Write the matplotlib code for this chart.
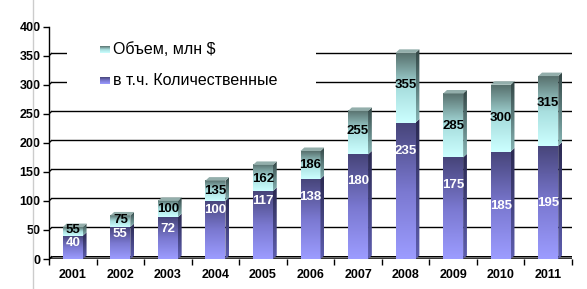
import numpy as np
import matplotlib
matplotlib.use("Agg")
import matplotlib.pyplot as plt
from matplotlib.colors import LinearSegmentedColormap
from matplotlib.patches import Polygon, Rectangle
from matplotlib.lines import Line2D

years = ["2001", "2002", "2003", "2004", "2005", "2006", "2007", "2008", "2009", "2010", "2011"]
total = [55, 75, 100, 135, 162, 186, 255, 355, 285, 300, 315]
quant = [40, 55, 72, 100, 117, 138, 180, 235, 175, 185, 195]
legend_labels = ["Объем, млн $", "в т.ч. Количественные"]

# label heights as placed in the original (hand moved labels)
total_label_y = [50, 67, 86, 117, 138, 162, 221, 299, 229, 243, 268]
quant_label_y = [27, 43, 52, 84, 100, 106, 134, 186, 127, 92, 96]

plt.rcParams['font.family'] = ['Liberation Sans', 'DejaVu Sans']

W, H = 587, 289
fig = plt.figure(figsize=(W / 100, H / 100), dpi=100)
ax = fig.add_axes([49 / W, (H - 259) / H, (572 - 49) / W, (259 - 26.7) / H])

cm_quant = LinearSegmentedColormap.from_list("q", ["#9c9cff", "#7a78d0", "#47457a"])
cm_quant_side = LinearSegmentedColormap.from_list("qs", ["#5e5eb0", "#2a2950"])
cm_total = LinearSegmentedColormap.from_list("t", ["#ccffff", "#a8dede", "#58716e"])
cm_total_side = LinearSegmentedColormap.from_list("ts", ["#86b4b4", "#324544"])

grad = np.linspace(0, 1, 64).reshape(-1, 1)
dx, dy = 0.08, 6
bw = 0.42


def grad_fill(x0, x1, y0, y1, cmap, clip=None, z=3):
    im = ax.imshow(grad, extent=[x0, x1, y0, y1], origin="lower", aspect="auto",
                   cmap=cmap, zorder=z, interpolation="bilinear")
    if clip is not None:
        ax.add_patch(clip)
        im.set_clip_path(clip)
    return im


# back wall gridlines
for v in range(0, 401, 50):
    ax.plot([-0.5, -0.5 + dx * 0.8], [v, v + dy * 0.8], color="black", lw=1, zorder=1,
            solid_capstyle="butt")
    if v > 0:
        ax.plot([-0.5 + dx * 0.8, 10.5 + dx * 0.8], [v + dy * 0.8, v + dy * 0.8],
                color="black", lw=1, zorder=1)

# floor
floor = Polygon([(-0.5, 0), (10.5, 0), (10.5 + dx, dy * 0.7), (-0.5 + dx, dy * 0.7)],
                closed=True, facecolor="#808080", edgecolor="black", lw=0.8, zorder=2)
ax.add_patch(floor)

for i in range(len(years)):
    x0, x1 = i - bw / 2, i + bw / 2
    q, t = quant[i], total[i]
    # purple front + side
    grad_fill(x0, x1, 0, q, cm_quant)
    side = Polygon([(x1, 0), (x1 + dx, dy), (x1 + dx, q + dy), (x1, q)], closed=True,
                   facecolor="none", edgecolor="none", zorder=3)
    grad_fill(x1, x1 + dx, 0, q + dy, cm_quant_side, clip=side)
    # cyan front + side
    grad_fill(x0, x1, q, t, cm_total)
    side = Polygon([(x1, q), (x1 + dx, q + dy), (x1 + dx, t + dy), (x1, t)], closed=True,
                   facecolor="none", edgecolor="none", zorder=3)
    grad_fill(x1, x1 + dx, q, t + dy, cm_total_side, clip=side)
    # top face
    ax.add_patch(Polygon([(x0, t), (x1, t), (x1 + dx, t + dy), (x0 + dx, t + dy)],
                         closed=True, facecolor="#93aeab", edgecolor="none", zorder=3))
    ax.text(i, total_label_y[i], str(t), ha="center", va="center", fontsize=9.5,
            fontweight="bold", color="black", zorder=5)
    ax.text(i, quant_label_y[i], str(q), ha="center", va="center", fontsize=9.5,
            fontweight="bold", color="white", zorder=5)

# legend
ax.add_patch(Rectangle((-0.12, 265), 5.24, 128, facecolor="white", edgecolor="none", zorder=4))
grad_fill(0.57, 0.78, 355, 366, cm_total, z=5)
grad_fill(0.57, 0.78, 302, 313, cm_quant, z=5)
ax.text(0.85, 361, legend_labels[0], ha="left", va="center", fontsize=11.5, zorder=6)
ax.text(0.85, 307, legend_labels[1], ha="left", va="center", fontsize=11.5, zorder=6)

ax.set_xlim(-0.5, 10.5)
ax.set_ylim(0, 400)
for s in ["top", "right", "bottom"]:
    ax.spines[s].set_visible(False)
ax.spines["left"].set_linewidth(1)
ax.spines["left"].set_zorder(6)
ax.set_yticks(range(0, 401, 50))
ax.set_xticks(range(len(years)))
ax.set_xticklabels(years)
ax.set_xticks(np.arange(-0.5, 10.6, 1), minor=True)
ax.tick_params(axis="x", which="major", length=0, pad=7)
ax.tick_params(axis="x", which="minor", length=4, width=1, direction="out")
ax.tick_params(axis="y", length=4, width=1, pad=2)
for lab in ax.get_xticklabels() + ax.get_yticklabels():
    lab.set_fontweight("bold")
    lab.set_fontsize(9)

fig.add_artist(Line2D([33 / W, 33 / W], [0, 1], color="#cccccc", lw=1))

fig.savefig("out.png", dpi=100)
